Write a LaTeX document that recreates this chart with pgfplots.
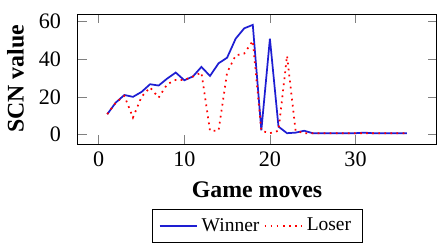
\documentclass[border=0pt]{standalone}
\usepackage{pgfplots}
\pgfplotsset{compat=1.18}
\usepackage{fontspec}
\setmainfont{Liberation Serif}
\begin{document}
\begin{tikzpicture}
\begin{axis}[
  name=ax,
  scale only axis,
  width=166pt, height=60pt,
  /pgf/number format/assume math mode=true,
  xlabel={\textbf{Game moves}},
  ylabel={\textbf{SCN value}},
  xtick={0,10,20,30},
  ytick={0,20,40,60},
  tick label style={font=\fontsize{10.2}{12}\selectfont},
  yticklabel style={xshift=-4pt},
  label style={font=\fontsize{11}{13}\selectfont},
  legend columns=2,
  legend style={at={(axis description cs:0.5,-0.50)}, anchor=north, font=\small, draw=black},
]
\addplot[color={rgb,255:red,30;green,30;blue,210}, thick] coordinates {
(1,10.8) (2,17) (3,21) (4,20) (5,22.6) (6,26.7) (7,26) (8,29.7) (9,32.9) (10,28.8)
(11,30.8) (12,35.9) (13,31.1) (14,37.8) (15,40.8) (16,50.9) (17,56.4) (18,58.2)
(19,2.3) (20,50.9) (21,4.2) (22,0.7) (23,1) (24,2) (25,0.7) (26,0.7) (27,0.7) (28,0.7)
(29,0.7) (30,0.7) (31,1) (32,0.7) (33,0.7) (34,0.7) (35,0.7) (36,0.7)
};
\addlegendentry{Winner}
\addplot[red, thick, dotted] coordinates {
(1,10.8) (2,17) (3,20.5) (4,9) (5,20) (6,25) (7,19.6) (8,26.7) (9,29) (10,29)
(11,30.8) (12,32.9) (13,2) (14,2) (15,32.9) (16,42) (17,43) (18,49.7)
(19,2) (20,0.7) (21,2) (22,41.8) (23,2) (24,0.7) (25,0.7) (26,0.7) (27,0.7) (28,0.7)
(29,0.7) (30,0.7) (31,0.7) (32,0.7) (33,0.7) (34,0.7) (35,0.7) (36,0.7)
};
\addlegendentry{Loser}
\end{axis}
\path (ax.north) ++(0,6.5pt);
\path (ax.east) ++(1pt,0);
\end{tikzpicture}
\end{document}
